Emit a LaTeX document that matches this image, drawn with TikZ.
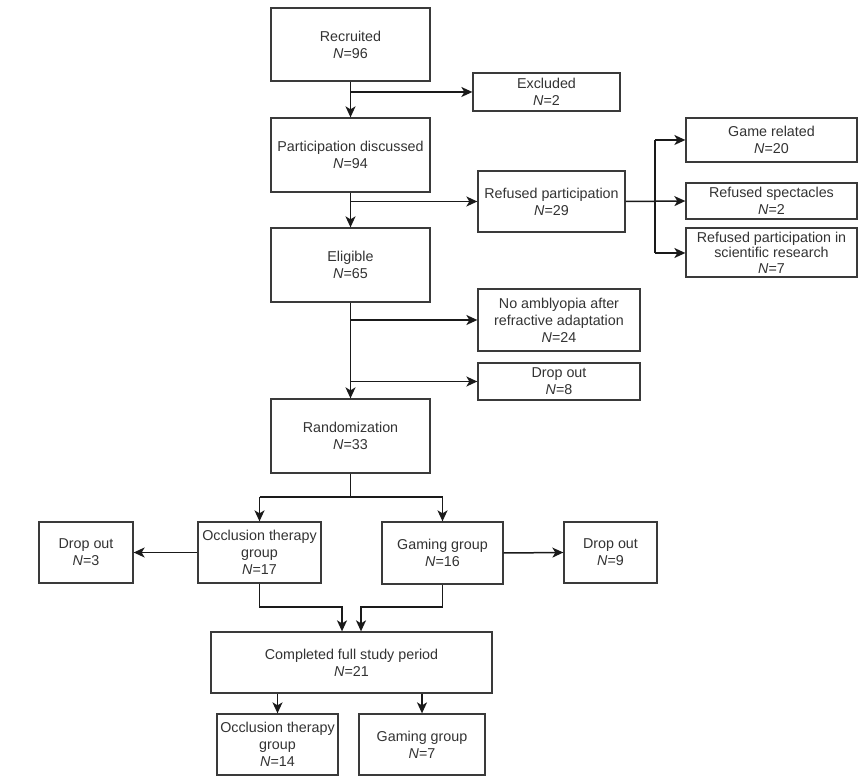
\documentclass[tikz,border=0pt]{standalone}
\usepackage{fontspec}
\setmainfont{Liberation Sans}
\usetikzlibrary{arrows.meta}
\definecolor{txt}{HTML}{333333}
\definecolor{ln}{HTML}{1A1A1A}
\definecolor{bd}{HTML}{3A3A3A}
\begin{document}
\begin{tikzpicture}[x=1pt,y=-1pt,
  box/.style={draw=bd,line width=1.3pt,rectangle,inner sep=0pt,align=center,text=txt,
    font=\fontsize{14.3}{17}\selectfont},
  conn/.style={draw=ln,line width=1.5pt},
  arr/.style={conn,-{Stealth[length=11pt,width=10pt,inset=3pt]}}]
\useasboundingbox (0,0) rectangle (865,783);
\fill[white] (0,0) rectangle (865,783);
\newcommand{\bx}[7]{\node[box,minimum width=#4pt,minimum height=#5pt] (#1) at (#2,#3) {#6};}
\bx{rec}{350.5}{44.5}{159}{73}{Recruited\\\textit{N}=96}{}
\bx{exc}{546.5}{92}{147}{38}{Excluded\\\textit{N}=2}{}
\bx{pd}{350.5}{155}{159}{74}{Participation discussed\\\textit{N}=94}{}
\bx{rp}{551.5}{201.5}{147}{61}{Refused participation\\\textit{N}=29}{}
\bx{gr}{771.5}{140}{171}{44}{Game related\\\textit{N}=20}{}
\bx{rs}{771.5}{201}{171}{36}{Refused spectacles\\\textit{N}=2}{}
\node[box,minimum width=171pt,minimum height=49pt,font=\fontsize{14.3}{15.5}\selectfont] (rsr) at (771.5,252.5) {Refused participation in\\scientific research\\\textit{N}=7};
\bx{elig}{350.5}{265}{159}{74}{Eligible\\\textit{N}=65}{}
\bx{noa}{559}{320}{162}{62}{No amblyopia after\\refractive adaptation\\\textit{N}=24}{}
\bx{doa}{559}{381.5}{162}{37}{Drop out\\\textit{N}=8}{}
\bx{rand}{350.5}{436}{159}{74}{Randomization\\\textit{N}=33}{}
\bx{occ}{259.5}{552.5}{123}{61}{Occlusion therapy\\group\\\textit{N}=17}{}
\bx{gam}{442.5}{553}{121}{62}{Gaming group\\\textit{N}=16}{}
\bx{dol}{86}{552.5}{94}{61}{Drop out\\\textit{N}=3}{}
\bx{dor}{610.5}{552.5}{93}{61}{Drop out\\\textit{N}=9}{}
\bx{comp}{351.5}{662.5}{281}{61}{Completed full study period\\\textit{N}=21}{}
\bx{occb}{277.5}{744.5}{121}{61}{Occlusion therapy\\group\\\textit{N}=14}{}
\bx{gamb}{422}{744.5}{126}{61}{Gaming group\\\textit{N}=7}{}
% coordinates
\coordinate (j1) at (rec.south |- exc.west);
\coordinate (j2) at (pd.south |- rp.west);
\coordinate (j3t) at (655,140);
\coordinate (j3b) at (655,253);
\coordinate (j4) at (elig.south |- noa.west);
\coordinate (j5) at (elig.south |- doa.west);
\coordinate (r1) at (350.5,497);
\coordinate (r2) at (occ.north |- r1);
\coordinate (r3) at (gam.north |- r1);
\coordinate (c1) at (occ.south |- 0,607);
\coordinate (c2) at (342,607);
\coordinate (c3) at (gam.south |- 0,607);
\coordinate (c4) at (361,607);
% connectors
\draw[arr] (rec.south) -- (pd.north);
\draw[arr] (j1) -- (exc.west);
\draw[arr] (pd.south) -- (elig.north);
\draw[arr] (j2) -- (rp.west);
\draw[arr] (rp.east) -- (rs.west);
\draw[conn] (j3t) -- (j3b);
\draw[arr] (j3t) -- (gr.west |- j3t);
\draw[arr] (j3b) -- (rsr.west |- j3b);
\draw[arr] (elig.south) -- (rand.north);
\draw[arr] (j4) -- (noa.west);
\draw[arr] (j5) -- (doa.west);
\draw[conn] (rand.south) -- (r1);
\draw[conn] (r2) -- (r3);
\draw[arr] (r2) -- (occ.north);
\draw[arr] (r3) -- (gam.north);
\draw[arr] (occ.west) -- (dol.east);
\draw[arr] (gam.east) -- (dor.west);
\draw[arr] (occ.south) -- (c1) -- (c2) -- (c2 |- comp.north);
\draw[arr] (gam.south) -- (c3) -- (c4) -- (c4 |- comp.north);
\draw[arr] (comp.south -| occb.north) -- (occb.north);
\draw[arr] (comp.south -| gamb.north) -- (gamb.north);
\end{tikzpicture}
\end{document}
